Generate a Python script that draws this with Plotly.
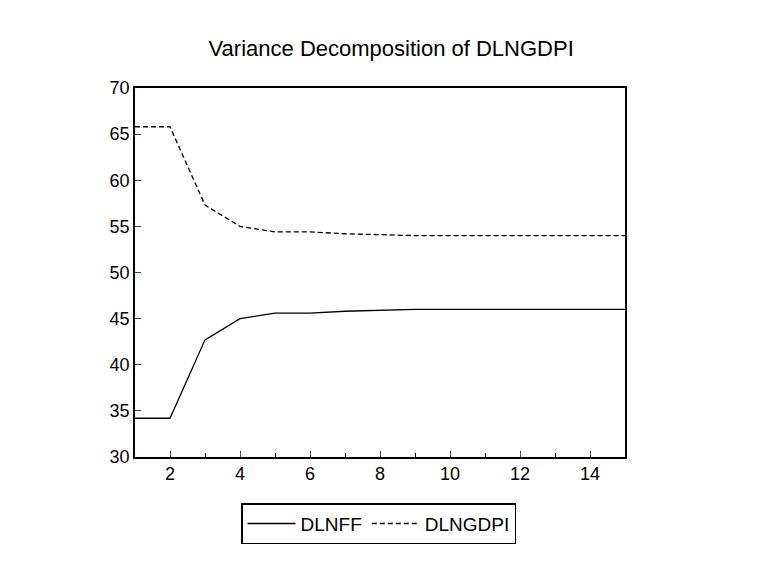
import plotly.graph_objects as go

periods = list(range(1, 16))
dlnff = [34.2, 34.2, 42.7, 45.0, 45.6, 45.6, 45.8, 45.9, 46.0, 46.0, 46.0, 46.0, 46.0, 46.0, 46.0]
dlngdpi = [65.8, 65.8, 57.3, 55.0, 54.4, 54.4, 54.2, 54.1, 54.0, 54.0, 54.0, 54.0, 54.0, 54.0, 54.0]
x_ticks = [2, 4, 6, 8, 10, 12, 14]
y_ticks = [30, 35, 40, 45, 50, 55, 60, 65, 70]

fig = go.Figure()
fig.add_trace(go.Scatter(x=periods, y=dlnff, mode="lines", name="DLNFF",
                         line=dict(color="black", width=1.3)))
fig.add_trace(go.Scatter(x=periods, y=dlngdpi, mode="lines", name="DLNGDPI",
                         line=dict(color="black", width=1.3, dash="5px,3px")))
fig.update_layout(
    width=782, height=588, paper_bgcolor="white", plot_bgcolor="white",
    font=dict(family="Liberation Sans, Arial", size=18, color="black"),
    title=dict(text="Variance Decomposition of DLNGDPI", x=0.49, xanchor="center",
               y=0.945, font=dict(size=22)),
    margin=dict(l=127, r=165, t=80, b=139),
    legend=dict(orientation="h", x=0.497, xanchor="center", y=-0.125, yanchor="top",
                bordercolor="black", borderwidth=1.5, font=dict(size=19),
                itemwidth=48),
    showlegend=True,
)
fig.update_xaxes(range=[1, 15], tickvals=x_ticks, ticks="inside", ticklen=6,
                 showgrid=False, zeroline=False, showline=True, linecolor="black",
                 linewidth=1.5, mirror=True,
                 minor=dict(dtick=1, ticks="inside", ticklen=4, tickcolor="black"))
fig.update_yaxes(range=[30, 70], tickvals=y_ticks, ticks="inside", ticklen=6,
                 showgrid=False, zeroline=False, showline=True, linecolor="black",
                 linewidth=1.5, mirror=True)
fig.write_html("out.html")
